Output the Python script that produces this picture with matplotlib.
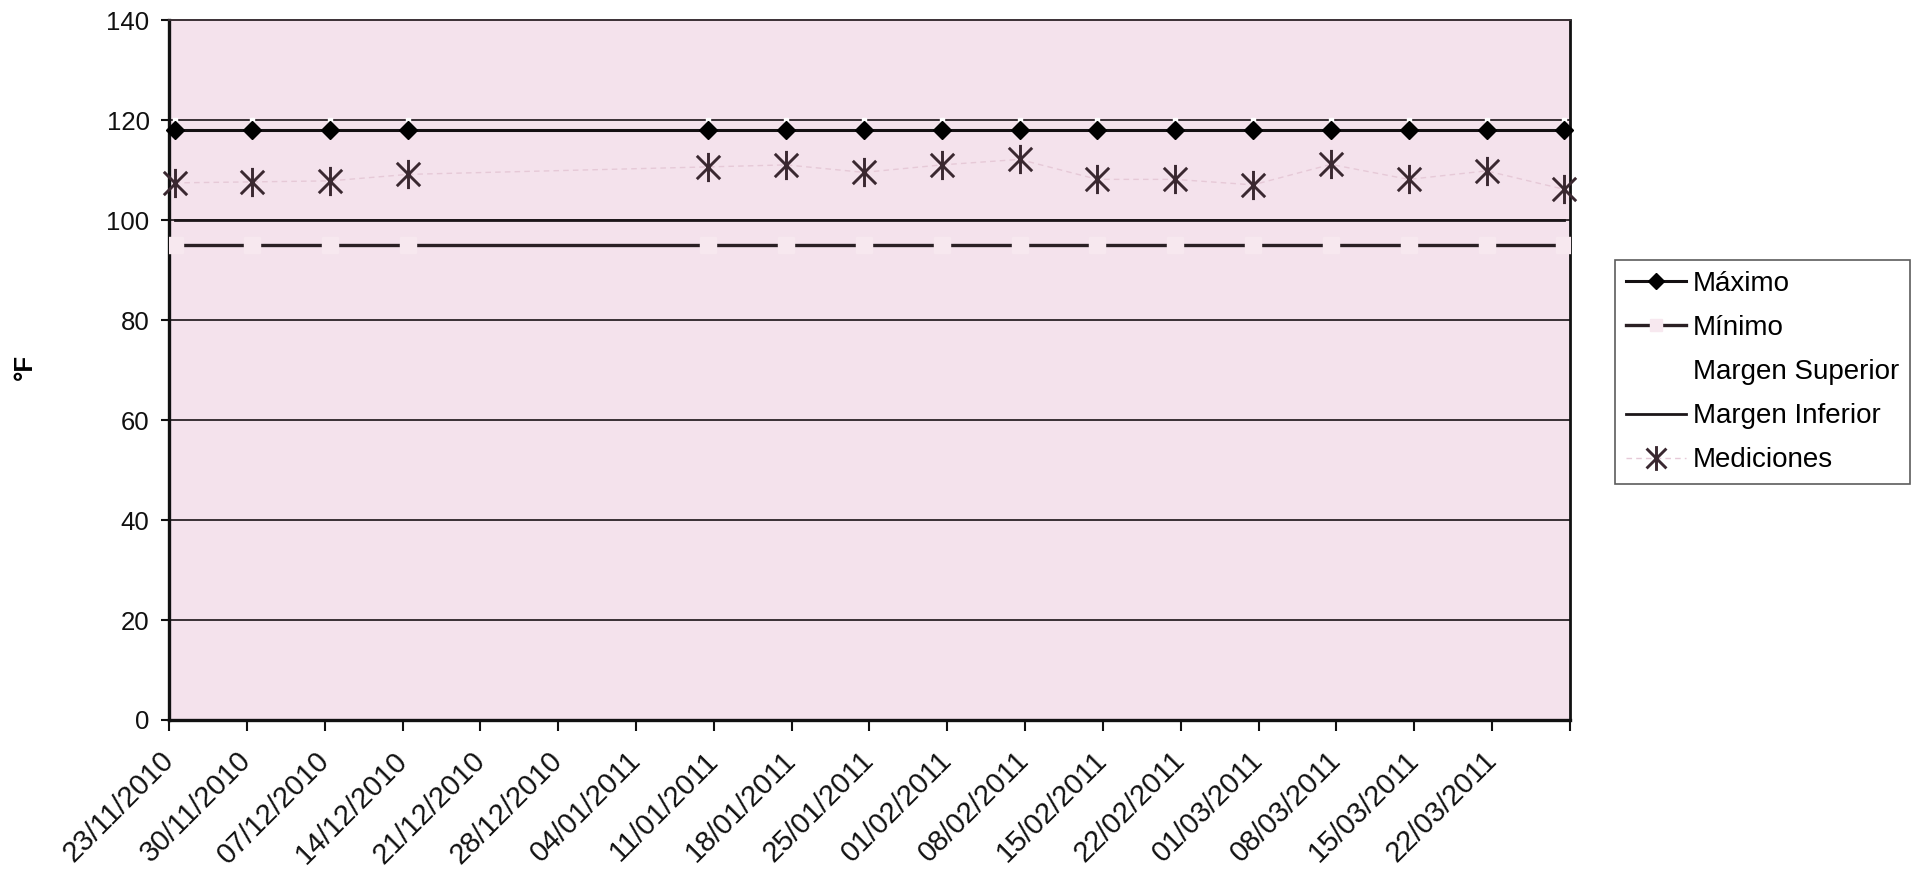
import matplotlib
matplotlib.use("Agg")
import matplotlib.pyplot as plt
import matplotlib.dates as mdates
from matplotlib.path import Path
from matplotlib.transforms import ScaledTranslation
from datetime import datetime

# Fechas de medición y series
fechas = ["23/11/2010", "30/11/2010", "07/12/2010", "14/12/2010",
          "10/01/2011", "17/01/2011", "24/01/2011", "31/01/2011",
          "07/02/2011", "14/02/2011", "21/02/2011", "28/02/2011",
          "07/03/2011", "14/03/2011", "21/03/2011", "28/03/2011"]
maximo = [118, 118, 118, 118, 118, 118, 118, 118,
          118, 118, 118, 118, 118, 118, 118, 118]
minimo = [95, 95, 95, 95, 95, 95, 95, 95,
          95, 95, 95, 95, 95, 95, 95, 95]
margen_superior = [120, 120, 120, 120, 120, 120, 120, 120,
                   120, 120, 120, 120, 120, 120, 120, 120]
margen_inferior = [100, 100, 100, 100, 100, 100, 100, 100,
                   100, 100, 100, 100, 100, 100, 100, 100]
mediciones = [107.5, 107.7, 107.9, 109.2, 110.7, 111.1, 109.6, 111.1,
              112.2, 108.2, 108.2, 107.1, 111.2, 108.2, 109.9, 106.2]

etiquetas_x = ["23/11/2010", "30/11/2010", "07/12/2010", "14/12/2010",
               "21/12/2010", "28/12/2010", "04/01/2011", "11/01/2011",
               "18/01/2011", "25/01/2011", "01/02/2011", "08/02/2011",
               "15/02/2011", "22/02/2011", "01/03/2011", "08/03/2011",
               "15/03/2011", "22/03/2011", ""]
eje_inicio = "23/11/2010"
eje_fin = "29/03/2011"

plt.rcParams["font.family"] = ["Liberation Sans", "DejaVu Sans"]

def num(s):
    return mdates.date2num(datetime.strptime(s, "%d/%m/%Y"))

# each date occupies a one-day slot; points sit in the middle of it
x = [num(f) + 0.5 for f in fechas]
x0, x1 = num(eje_inicio), num(eje_fin)
ticks = [num(eje_inicio) + 7 * i for i in range(len(etiquetas_x))]

fig = plt.figure(figsize=(19.19, 8.83), dpi=100)
ax = fig.add_axes([0.0881, 0.1846, 0.7300, 0.7922])
ax.set_facecolor("#f4e2ec")

ax.set_xlim(x0, x1)
ax.set_ylim(0, 140)
ax.set_yticks(range(0, 141, 20))

# horizontal gridlines
for v in range(20, 140, 20):
    ax.axhline(v, color="#2a2226", lw=1.3, zorder=1)

asterisco = Path([(0, -1), (0, 1), (-0.8, -0.8), (0.8, 0.8), (-0.8, 0.8), (0.8, -0.8)],
                 [Path.MOVETO, Path.LINETO, Path.MOVETO, Path.LINETO, Path.MOVETO, Path.LINETO])

ax.plot(x, maximo, color="#141012", lw=2.2, marker="D", ms=9.5,
        mfc="#000000", mec="#000000", label="Máximo", zorder=4, clip_on=False)
ax.plot(x, minimo, color="#2a2024", lw=2.4, marker="s", ms=11,
        mfc="#f7e8ef", mec="#f7e8ef", label="Mínimo", zorder=4)
ax.plot(x, margen_superior, color="white", lw=0, marker="s", ms=3,
        mfc="white", mec="white", linestyle="none", label="Margen Superior", zorder=3)
ax.plot(x, margen_inferior, color="#1c1619", lw=2.0, label="Margen Inferior", zorder=3)
ax.plot(x, mediciones, color="#e6c9d7", lw=1.0, linestyle=(0, (4, 3)),
        marker=asterisco, ms=21, mec="#3a2830", mew=2.1,
        label="Mediciones", zorder=5, clip_on=False)

ax.set_xticks(ticks)
ax.set_xticklabels(etiquetas_x, rotation=45, ha="right", va="center",
                   rotation_mode="anchor", fontsize=21)
desplazamiento = ScaledTranslation(-13 / 100, 0, fig.dpi_scale_trans)
for etiqueta in ax.get_xticklabels():
    etiqueta.set_transform(etiqueta.get_transform() + desplazamiento)
ax.tick_params(axis="x", direction="out", length=8, width=1.5, pad=18, colors="#111111")
ax.tick_params(axis="y", direction="out", length=6, width=1.5, pad=8,
               labelsize=18.5, colors="#111111")

for lado in ("left", "bottom"):
    ax.spines[lado].set_linewidth(2.4)
    ax.spines[lado].set_color("#111111")
ax.spines["right"].set_linewidth(2.0)
ax.spines["right"].set_color("#111111")
ax.spines["top"].set_linewidth(1.4)
ax.spines["top"].set_color("#3a3035")

fig.text(0.013, 0.584, "°F", rotation=90, fontsize=18.5, fontweight="bold",
         ha="center", va="center")

leg = ax.legend(loc="upper left", bbox_to_anchor=(1615 / 1919, 1 - 260 / 883),
                bbox_transform=fig.transFigure, fontsize=20, frameon=True,
                fancybox=False, edgecolor="#333333", handlelength=2.15,
                handletextpad=0.25, labelspacing=0.65, borderpad=0.4,
                borderaxespad=0, markerscale=0.85)
leg.get_frame().set_linewidth(1.2)

fig.savefig("out.png", dpi=100, facecolor="white")
